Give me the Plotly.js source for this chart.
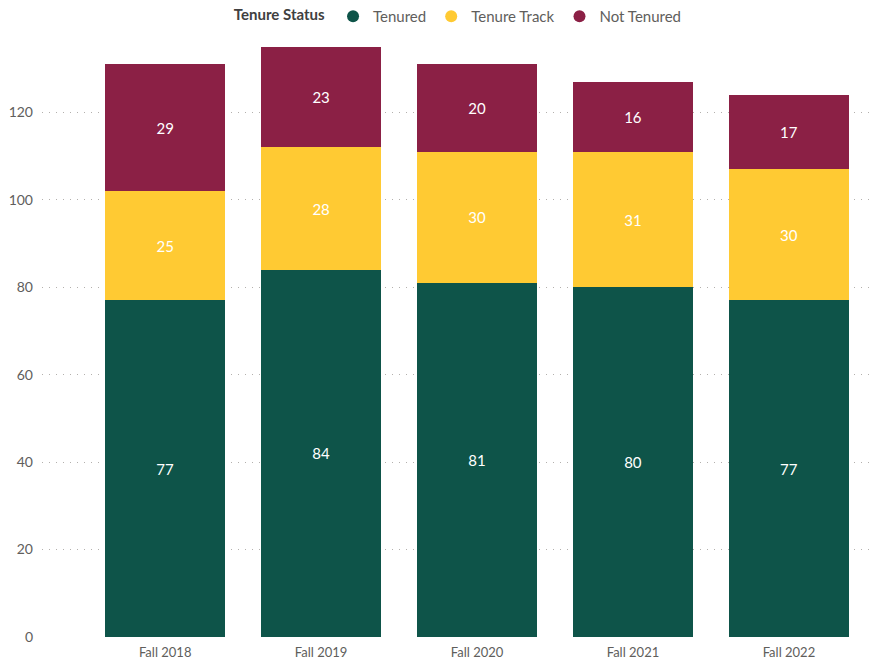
<!DOCTYPE html>
<html>
<head>
<meta charset="utf-8">
<script src="https://cdn.plot.ly/plotly-3.0.1.min.js"></script>
<style>html,body{margin:0;padding:0;background:#fff;}#chart{width:880px;height:661px;}</style>
</head>
<body>
<div id="chart"></div>
<script>
const categories = ["Fall 2018", "Fall 2019", "Fall 2020", "Fall 2021", "Fall 2022"];
const tenured = [77, 84, 81, 80, 77];
const tenureTrack = [25, 28, 30, 31, 30];
const notTenured = [29, 23, 20, 16, 17];
const seriesNames = ["Tenured", "Tenure Track", "Not Tenured"];
const seriesColors = ["#0E5449", "#FFCA33", "#8B2045"];
const yTicks = [0, 20, 40, 60, 80, 100, 120];

const font = "Segoe UI, Lato, 'Open Sans', sans-serif";
function series(name, vals, color) {
  return {
    type: 'bar', name: name, x: categories, y: vals,
    marker: {color: color}, showlegend: false, legendgroup: name,
    text: vals.map(String), textposition: 'inside', insidetextanchor: 'middle',
    textfont: {color: '#ffffff', size: 15, family: font},
    hoverinfo: 'x+y+name'
  };
}
const data = [
  series(seriesNames[0], tenured, seriesColors[0]),
  series(seriesNames[1], tenureTrack, seriesColors[1]),
  series(seriesNames[2], notTenured, seriesColors[2])
];
seriesNames.forEach((n, i) => data.push({
  type: 'scatter', mode: 'markers', name: n, legendgroup: n,
  x: [null], y: [null], showlegend: true,
  marker: {symbol: 'circle', size: 11, color: seriesColors[i]}
}));
const layout = {
  width: 880, height: 661,
  margin: {l: 42, r: 10, t: 25, b: 24, autoexpand: false},
  barmode: 'stack', bargap: 0.23,
  paper_bgcolor: '#fff', plot_bgcolor: '#fff',
  font: {family: font, color: '#605E5C', size: 13},
  showlegend: true,
  legend: {
    orientation: 'h', x: 0.522, xanchor: 'center', xref: 'container',
    y: 1.0, yanchor: 'top', yref: 'container',
    title: {text: '<b>Tenure Status</b>', font: {size: 15, color: '#404040'}},
    font: {size: 15, color: '#605E5C'}, traceorder: 'normal',
    itemwidth: 30, itemsizing: 'constant', tracegroupgap: 0
  },
  xaxis: {
    type: 'category', range: [-0.79, 4.52], showgrid: false, zeroline: false,
    showline: false, ticks: '', ticklabelstandoff: 6,
    tickfont: {size: 13, color: '#605E5C'}
  },
  yaxis: {
    range: [0, 140], tickvals: yTicks, showgrid: true, gridcolor: '#B3B0AD',
    griddash: '1px,6px', gridwidth: 1, zeroline: false, showline: false,
    ticks: '', ticklabelstandoff: 8, tickfont: {size: 14, color: '#605E5C'}
  }
};
Plotly.newPlot('chart', data, layout, {displayModeBar: false});
</script>
</body>
</html>
